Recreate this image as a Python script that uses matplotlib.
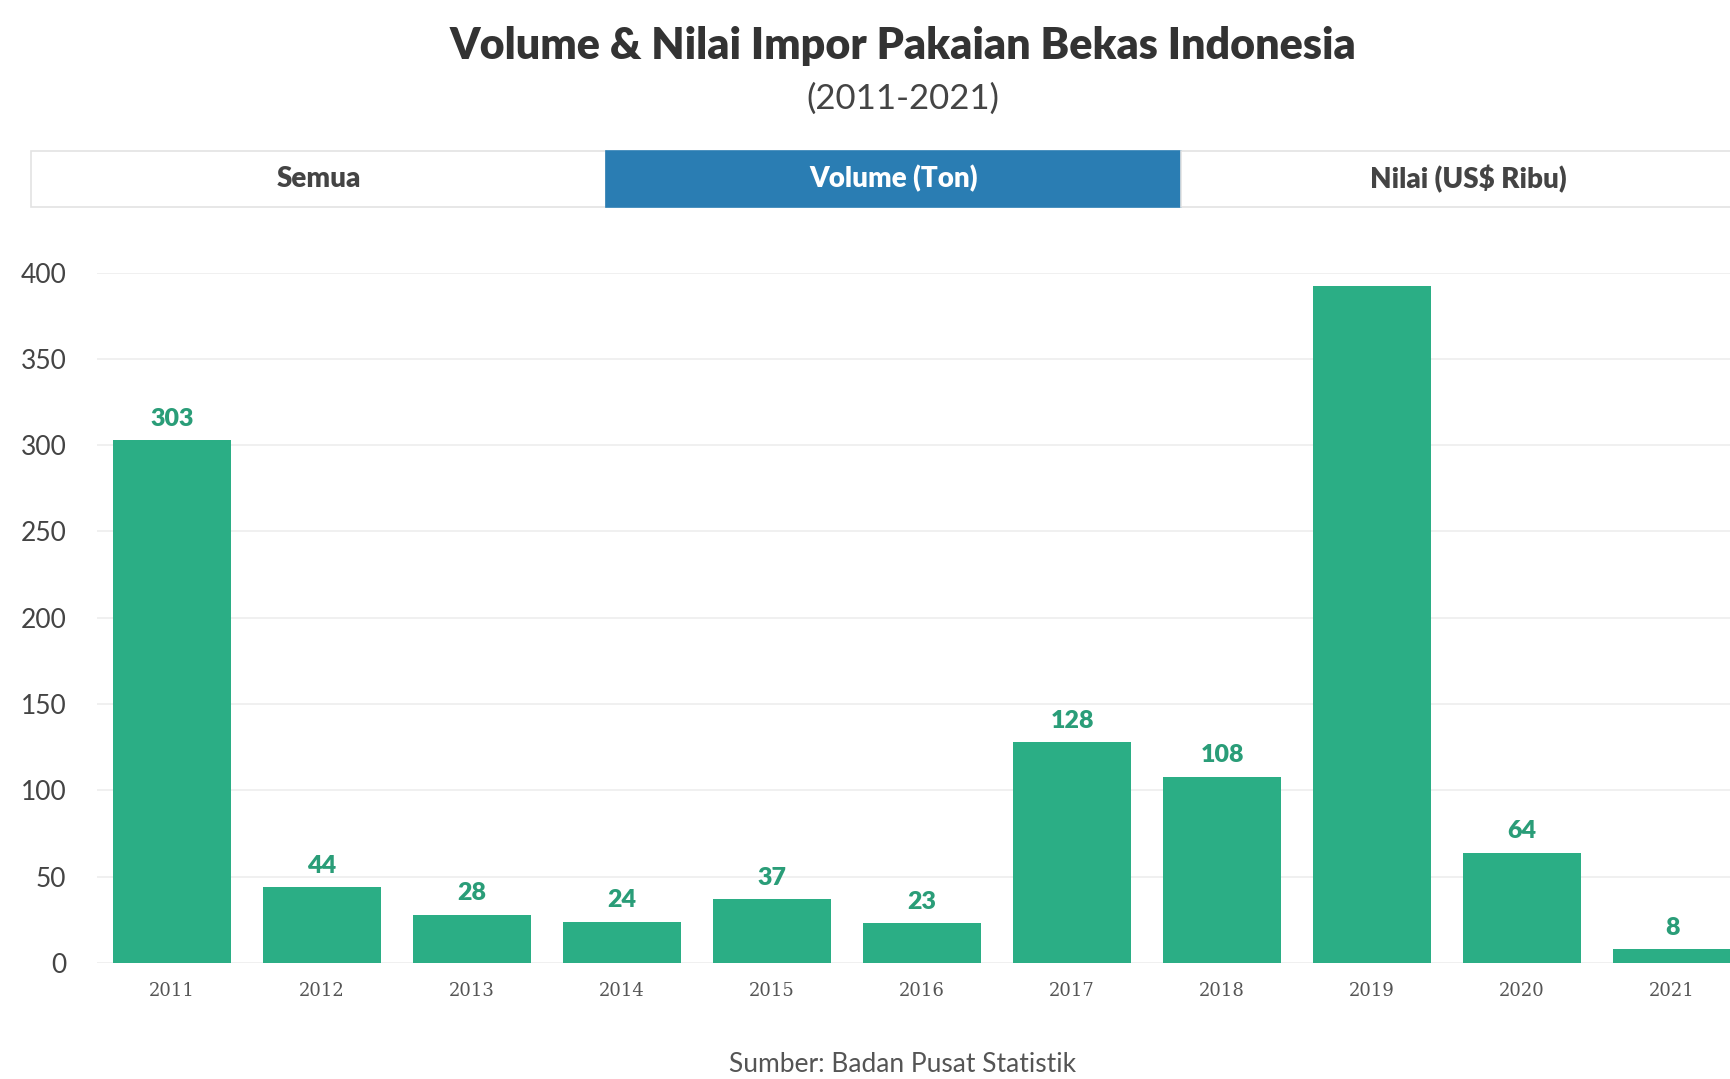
import matplotlib.pyplot as plt
from matplotlib.patches import Rectangle

# data
years = ['2011', '2012', '2013', '2014', '2015', '2016',
         '2017', '2018', '2019', '2020', '2021']
volume = [303, 44, 28, 24, 37, 23, 128, 108, 392, 64, 8]
y_ticks = [0, 50, 100, 150, 200, 250, 300, 350, 400]
tabs = ['Semua', 'Volume (Ton)', 'Nilai (US$ Ribu)']

plt.rcParams['font.family'] = ['Lato', 'DejaVu Sans']

W, H = 1730, 1079
fig = plt.figure(figsize=(W / 100, H / 100), dpi=100)

bar_color = '#2bae85'
label_color = '#2a9d78'

# title
fig.text(903 / W, 1 - 46 / H, 'Volume & Nilai Impor Pakaian Bekas Indonesia',
         ha='center', va='center', fontsize=31, fontweight='heavy', color='#333333')
fig.text(903 / W, 1 - 99 / H, '(2011-2021)', ha='center', va='center',
         fontsize=25, color='#444444')

# tab bar
tab_x0, tab_w = 31, 575
tab_y0, tab_h = 151, 56
for i, name in enumerate(tabs):
    x0 = tab_x0 + i * tab_w
    active = (name == 'Volume (Ton)')
    fig.patches.append(Rectangle((x0 / W, 1 - (tab_y0 + tab_h) / H), tab_w / W, tab_h / H,
                                 transform=fig.transFigure,
                                 facecolor='#2a7db3' if active else 'white',
                                 edgecolor='#2a7db3' if active else '#e3e3e3',
                                 linewidth=1.2, zorder=0))
    fig.text((x0 + tab_w / 2) / W, 1 - (tab_y0 + tab_h / 2) / H, name,
             ha='center', va='center', fontsize=20, fontweight='heavy',
             color='white' if active else '#444444')

# bar chart
ax = fig.add_axes([97 / W, 1 - 963 / H, 1650 / W, (963 - 272.5) / H])
x = range(len(years))
bars = ax.bar(x, volume, width=0.79, color=bar_color, zorder=2)
for xi, v in zip(x, volume):
    ax.text(xi, v + 6, str(v), ha='center', va='bottom', fontsize=18,
            fontweight='heavy', color=label_color, clip_on=True)

ax.set_xlim(-0.5, len(years) - 0.5)
ax.set_ylim(0, 400)
ax.set_yticks(y_ticks)
ax.set_xticks(list(x))
ax.set_xticklabels(years, fontsize=13, color='#555555', family='DejaVu Serif')
ax.tick_params(axis='y', labelsize=19, colors='#444444', length=0, pad=22)
ax.tick_params(axis='x', length=0, pad=14)
ax.grid(axis='y', color='#eeeeee', linewidth=1.2, zorder=0)
for s in ax.spines.values():
    s.set_visible(False)
ax.axhline(0, color='#e8e8e8', linewidth=1, zorder=1)

fig.text(903 / W, 1 - 1065 / H, 'Sumber: Badan Pusat Statistik', ha='center',
         va='center', fontsize=19, color='#555555')

fig.savefig('out.png', dpi=100)
